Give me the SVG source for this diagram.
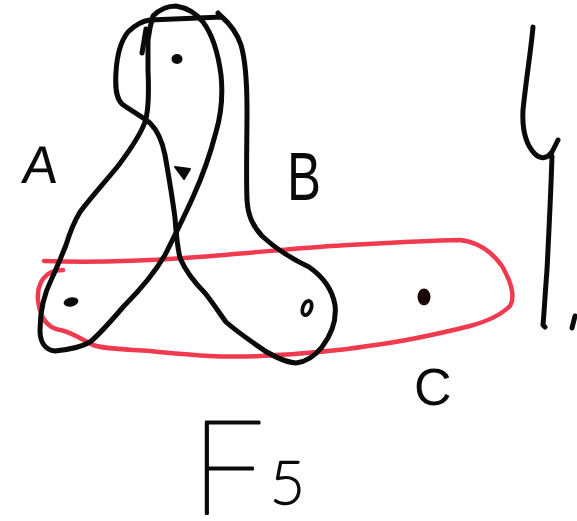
<svg xmlns="http://www.w3.org/2000/svg" width="577" height="521" viewBox="0 0 577 521">
<style>
.ink{fill:none;stroke:#0a0a0a;stroke-width:5;stroke-linecap:round;stroke-linejoin:round}
.red{fill:none;stroke:#f03a50;stroke-width:4.5;stroke-linecap:round;stroke-linejoin:round}
.dot{fill:#0a0a0a}
.lbl{font-family:"Liberation Sans",Arial,sans-serif;fill:#0a0a0a}
.big{font-family:Lato,"Liberation Sans",sans-serif;font-weight:100;fill:#0a0a0a;stroke:#0a0a0a;stroke-width:2.6;stroke-linejoin:round}
</style>
<rect width="577" height="521" fill="#fff"/>
<g id="edge-C">
<path class="red" d="M44,261 C90,263 140,261 184,258 C240,254 300,248 331,246 C370,244 410,241 460,240 C478,242 492,252 502,266 C510,280 516,296 510,306 C500,316 485,322 470,326 C430,336 400,342 368,346 C330,352 300,354 260,356 C220,358 190,355 150,351 C120,349 105,349 93,345 C82,340 72,332 60,330 C48,328 40,318 38,300 C37,288 40,280 48,274 C54,270 60,270 63,270"/>
<text class="lbl" x="414" y="405" font-size="52">C</text>
</g>
<g id="edge-A">
<path class="ink" d="M142,53 L146,29"/>
<path class="ink" d="M148,40 C149,32 150,26 153,16 C160,9 168,6 176,6 C188,8 196,13 203,22 C212,34 218,52 221,75 C223,95 221,115 216,132 C210,155 203,175 193,197 C185,215 175,235 165,255 C155,272 140,290 124,306 C112,320 100,334 90,342 C80,348 65,350 55,351 C45,350 40,342 40,330 C40,310 45,292 52,278 C58,265 62,255 66,245 C70,232 74,222 80,212 C92,196 105,182 118,166 C130,150 140,136 145,122 C149,110 149,92 148,70 C148,58 148,48 148,40"/>
<text class="lbl" x="22" y="183" font-size="53" transform="skewX(-6) translate(18,0)">A</text>
</g>
<g id="edge-B">
<path class="ink" d="M150,20 C175,19 200,18 222,17 L218,13 M222,17 C230,24 237,33 241,45 C246,62 247,85 247,110 C247,140 246,175 247,200 C248,215 252,225 262,236 C275,248 290,258 309,267 C322,276 332,288 335,305 C337,322 331,335 322,347 C314,357 305,362 296,363 C284,362 268,354 255,344 C245,337 235,330 226,322 C220,314 213,303 205,293 C195,283 186,272 180,258 C177,245 176,232 175,218 C172,195 168,172 165,155 C162,140 157,130 150,123 C143,117 133,112 122,104 C116,98 115,88 116,72 C117,55 120,42 128,32 C135,25 142,21 150,20"/>
<text class="lbl" x="287" y="200" font-size="68" textLength="34" lengthAdjust="spacingAndGlyphs">B</text>
</g>
<g id="v1"><ellipse class="dot" cx="177" cy="59" rx="5.5" ry="5"/></g>
<g id="v2"><path class="dot" d="M175,167 L190,169 L184,179 Z" stroke="#0a0a0a" stroke-width="2" stroke-linejoin="round"/></g>
<g id="v3"><ellipse class="dot" cx="71" cy="302" rx="7.5" ry="4.6" transform="rotate(-12 71 302)"/></g>
<g id="v4"><ellipse cx="307" cy="308" rx="4.2" ry="7.5" transform="rotate(20 307 308)" fill="#fff" stroke="#0a0a0a" stroke-width="3.8"/></g>
<g id="v5"><ellipse cx="424" cy="297" rx="6.5" ry="8.5" fill="#1a0507"/></g>
<g id="connectors"></g>
<g id="brace">
<path class="ink" d="M533,27 C531,50 526,80 523,110 C522,130 526,145 535,154 C541,160 548,158 552,152 C555,146 557,142 558,140 M552,156 C551,190 549,230 547,270 C545,295 544,315 543,325 L545,327"/>
<path class="ink" d="M575,316 L572,328"/>
</g>
<g id="title">
<text class="big" x="191" y="514" font-size="130">F<tspan x="270" y="504" font-size="60">5</tspan></text>
</g>
</svg>
